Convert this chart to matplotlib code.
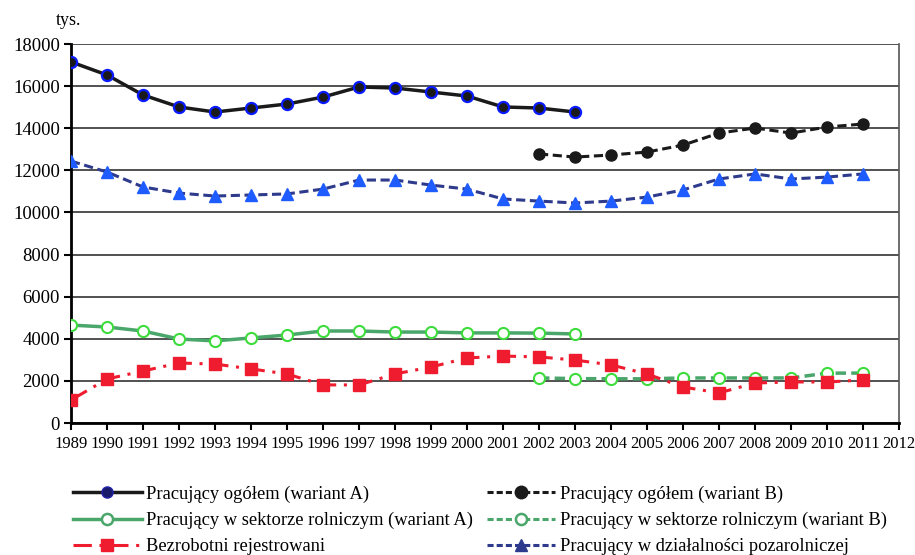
import matplotlib.pyplot as plt
from matplotlib.lines import Line2D

plt.rcParams["font.family"] = ["Liberation Serif", "DejaVu Serif"]

years_a = list(range(1989, 2004))
years_b = list(range(2002, 2012))
years_all = list(range(1989, 2012))

ogolem_a = [17150, 16530, 15580, 15010, 14770, 14960, 15150, 15480, 15960, 15910,
            15720, 15530, 15010, 14960, 14770]
ogolem_b = [12780, 12630, 12730, 12870, 13200, 13770, 14010, 13770, 14060, 14200]
rolne_a = [4650, 4560, 4370, 3990, 3900, 4040, 4180, 4370, 4370, 4320,
           4320, 4280, 4280, 4270, 4230]
rolne_b = [2140, 2110, 2100, 2100, 2140, 2140, 2140, 2140, 2370, 2370]
bezrobotni = [1090, 2090, 2470, 2850, 2800, 2570, 2330, 1810, 1810, 2330,
              2660, 3090, 3180, 3140, 2990, 2760, 2330, 1710, 1430, 1900,
              1950, 1950, 2040]
pozarolni = [12440, 11920, 11210, 10920, 10780, 10830, 10880, 11110, 11540, 11540,
             11300, 11110, 10640, 10540, 10450, 10540, 10730, 11070, 11590, 11830,
             11590, 11680, 11830]

labels = [
    "Pracujący ogółem (wariant A)",
    "Pracujący ogółem (wariant B)",
    "Pracujący w sektorze rolniczym (wariant A)",
    "Pracujący w sektorze rolniczym (wariant B)",
    "Bezrobotni rejestrowani",
    "Pracujący w działalności pozarolniczej",
]

BLACK = "#1a1a1a"
GREEN = "#4aa66a"
LGREEN = "#3ddc3d"
RED = "#ee1c2e"
NAVY = "#2e3a8c"
BLUE = "#1f5cff"

fig = plt.figure(figsize=(9.15, 5.55), dpi=100)
ax = fig.add_axes([0.0776, 0.2378, 0.905, 0.6829])

ax.plot(years_all, pozarolni, color=NAVY, lw=2.2, ls=(0, (3, 1.5)),
        marker="^", ms=9, mfc=BLUE, mec=BLUE, zorder=3)
ax.plot(years_b, ogolem_b, color=BLACK, lw=2.2, ls=(0, (3, 1.5)),
        marker="o", ms=8, mfc=BLACK, mec=BLACK, zorder=3)
ax.plot(years_a, ogolem_a, color=BLACK, lw=2.5, ls="-",
        marker="o", ms=8, mfc=BLACK, mec="#0a1aff", mew=1.6, zorder=4)
ax.plot(years_b, rolne_b, color=GREEN, lw=2.5, ls=(0, (3, 1.5)),
        marker="o", ms=8, mfc="white", mec=LGREEN, mew=1.5, zorder=3)
ax.plot(years_all, bezrobotni, color=RED, lw=2.2, ls=(0, (6, 2.5, 1, 2.5)),
        marker="s", ms=9, mfc=RED, mec=RED, zorder=4)
ax.plot(years_a, rolne_a, color=GREEN, lw=2.5, ls="-",
        marker="o", ms=8, mfc="white", mec=LGREEN, mew=1.5, zorder=3)

ax.set_xlim(1989, 2012)
ax.set_ylim(0, 18000)
ax.set_xticks(range(1989, 2013))
ax.set_yticks(range(0, 18001, 2000))
ax.tick_params(axis="x", labelsize=12, length=5, width=1.5, direction="out", pad=4)
ax.tick_params(axis="y", labelsize=13.5, length=5, width=1.5, direction="out", pad=3)
ax.grid(axis="y", color="#333333", lw=1.2)
ax.set_axisbelow(True)

for side in ["left", "bottom"]:
    ax.spines[side].set_linewidth(2)
    ax.spines[side].set_color("black")
ax.spines["right"].set_color("#555555")
ax.spines["right"].set_linewidth(1.2)
ax.spines["top"].set_visible(False)

fig.text(0.061, 0.947, "tys.", fontsize=13, ha="left", va="bottom")

handles = [
    Line2D([], [], color=BLACK, lw=2.5, marker="o", ms=8, mfc="#1a1a6a", mec="#2222aa"),
    Line2D([], [], color=BLACK, lw=2.2, ls=(0, (2, 1)), marker="o", ms=9, mfc=BLACK, mec=BLACK),
    Line2D([], [], color=GREEN, lw=2.5, marker="o", ms=8, mfc="white", mec=GREEN, mew=1.8),
    Line2D([], [], color=GREEN, lw=2.2, ls=(0, (2, 1)), marker="o", ms=8, mfc="white", mec=GREEN, mew=1.8),
    Line2D([], [], color=RED, lw=2.2, ls=(0, (6, 2.5, 1, 2.5)), marker="s", ms=9, mfc=RED, mec=RED),
    Line2D([], [], color=NAVY, lw=2.2, ls=(0, (2, 1)), marker="^", ms=9, mfc=NAVY, mec=NAVY),
]
order = [0, 2, 4, 1, 3, 5]
fig.legend([handles[i] for i in order], [labels[i] for i in order],
           loc="upper left", bbox_to_anchor=(0.072, 0.139), ncol=2, frameon=False,
           fontsize=13.3, handlelength=3.7, handletextpad=0.25, columnspacing=0.75,
           labelspacing=0.5, borderaxespad=0)

fig.savefig("out.png", dpi=100)
